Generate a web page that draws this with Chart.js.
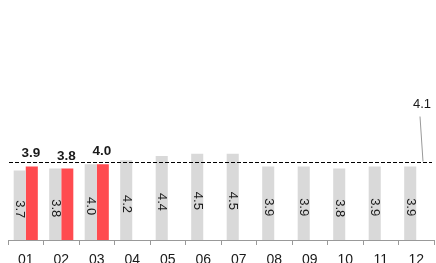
<!DOCTYPE html>
<html><head><meta charset="utf-8">
<script src="https://cdn.jsdelivr.net/npm/chart.js@4/dist/chart.umd.min.js"></script>
<style>html,body{margin:0;padding:0;background:#fff}#wrap{width:436px;height:263px}</style>
</head><body><div id="wrap"><canvas id="c" width="436" height="263"></canvas></div>
<script>
const categories = ["01","02","03","04","05","06","07","08","09","10","11","12"];
const grayValues = [3.7,3.8,4.0,4.2,4.4,4.5,4.5,3.9,3.9,3.8,3.9,3.9];
const redValues = [3.9,3.8,4.0,null,null,null,null,null,null,null,null,null];
const refValue = 4.1;
const refLabel = "4.1";

const FONT = "Liberation Sans, Arial, sans-serif";

const overlay = {
  id: 'overlay',
  afterDatasetsDraw(chart) {
    const ctx = chart.ctx;
    const area = chart.chartArea;
    const y = chart.scales.y;
    const m0 = chart.getDatasetMeta(0);
    ctx.save();
    ctx.fillStyle = '#1a1a1a';
    ctx.font = '13px ' + FONT;
    ctx.textAlign = 'center';
    ctx.textBaseline = 'middle';
    m0.data.forEach((el, i) => {
      const v = grayValues[i];
      const cy = (el.y + el.base) / 2;
      ctx.save();
      ctx.translate(el.x, cy);
      ctx.rotate(Math.PI / 2);
      ctx.fillText(v.toFixed(1), 0, 0);
      ctx.restore();
    });
    const m1 = chart.getDatasetMeta(1);
    ctx.font = 'bold 13.5px ' + FONT;
    ctx.textBaseline = 'alphabetic';
    m1.data.forEach((el, i) => {
      const v = redValues[i];
      if (v == null) return;
      ctx.fillText(v.toFixed(1), el.x - 1, el.y - 9);
    });
    const ry = Math.round(y.getPixelForValue(refValue)) + 0.5;
    ctx.strokeStyle = '#000';
    ctx.lineWidth = 1;
    ctx.setLineDash([4, 2]);
    ctx.beginPath();
    ctx.moveTo(area.left + 1, ry);
    ctx.lineTo(area.right - 2, ry);
    ctx.stroke();
    ctx.setLineDash([]);
    ctx.strokeStyle = '#999';
    ctx.beginPath();
    ctx.moveTo(area.right - 14, ry - 46);
    ctx.lineTo(area.right - 11, ry - 1);
    ctx.stroke();
    ctx.fillStyle = '#1a1a1a';
    ctx.font = '13px ' + FONT;
    ctx.textAlign = 'center';
    ctx.textBaseline = 'middle';
    ctx.fillText(refLabel, area.right - 12, ry - 58);
    ctx.restore();
  }
};

new Chart(document.getElementById('c'), {
  type: 'bar',
  data: {
    labels: categories,
    datasets: [
      { data: grayValues, backgroundColor: '#d9d9d9', categoryPercentage: 0.68, barPercentage: 1.0 },
      { data: redValues, backgroundColor: '#ff4b4f', categoryPercentage: 0.68, barPercentage: 1.0 }
    ]
  },
  options: {
    responsive: false,
    animation: false,
    events: [],
    layout: { padding: { left: 8, right: 2, top: 0, bottom: 0 } },
    plugins: { legend: { display: false }, tooltip: { enabled: false } },
    scales: {
      x: {
        grid: { display: true, drawOnChartArea: false, tickLength: 5, color: '#999', offset: true },
        border: { display: true, color: '#999' },
        ticks: { color: '#1a1a1a', font: { size: 14, family: FONT }, padding: 7, maxRotation: 0, autoSkip: false },
        afterFit(s) { s.height = 23; }
      },
      y: { display: false, min: 0.38, max: 11.86 }
    }
  },
  plugins: [overlay]
});
</script>
</body></html>
